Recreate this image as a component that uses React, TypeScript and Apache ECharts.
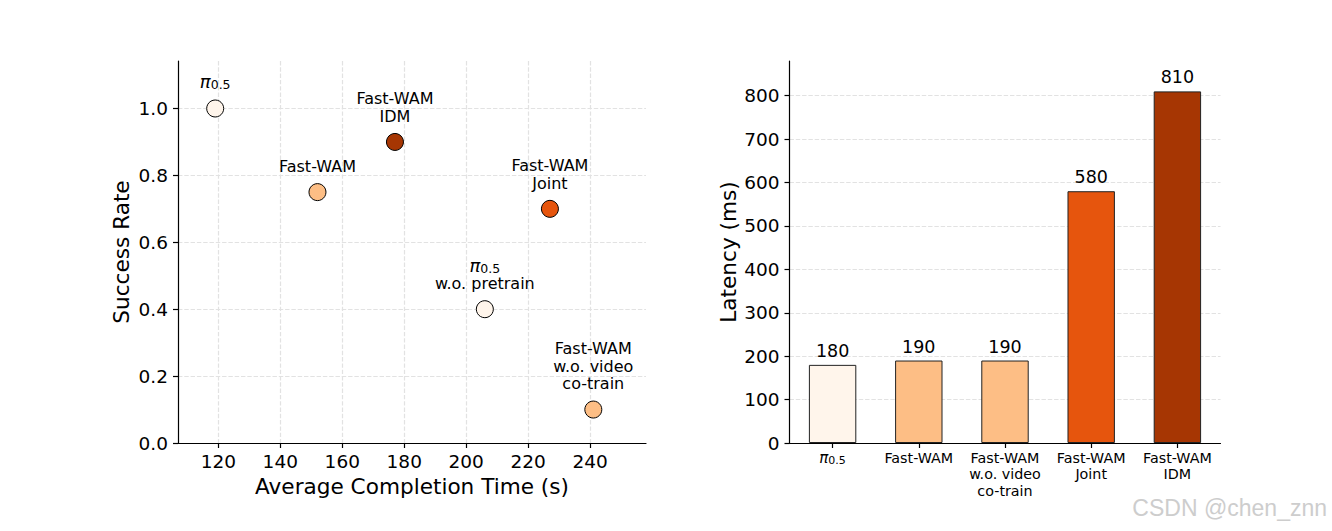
import React, { useEffect, useRef } from "react";
import * as echarts from "echarts";

// ---- Left panel: success rate vs completion time ----
const scatterNames = [
  "π0.5",
  "Fast-WAM",
  "Fast-WAM\nIDM",
  "Fast-WAM\nJoint",
  "π0.5\nw.o. pretrain",
  "Fast-WAM\nw.o. video\nco-train",
];
const completionTime = [119, 152, 177, 227, 206, 241];
const successRate = [1.0, 0.75, 0.9, 0.7, 0.4, 0.1];
const scatterColors = ["#fff5eb", "#fdbe85", "#a63603", "#e6550d", "#fff5eb", "#fdbe85"];
const timeTicks = [120, 140, 160, 180, 200, 220, 240];
const rateTicks = [0, 0.2, 0.4, 0.6, 0.8, 1.0];

// ---- Right panel: latency bars ----
const barCategories = [
  "π0.5",
  "Fast-WAM",
  "Fast-WAM\nw.o. video\nco-train",
  "Fast-WAM\nJoint",
  "Fast-WAM\nIDM",
];
const latency = [180, 190, 190, 580, 810];
const barColors = ["#fff5eb", "#fdbe85", "#fdbe85", "#e6550d", "#a63603"];
const latencyTicks = [0, 100, 200, 300, 400, 500, 600, 700, 800];

const FONT = "DejaVu Sans";
const toRich = (s: string) => s.replace("π0.5", "{pi|π}{sub|0.5}");

export default function App() {
  const ref = useRef<HTMLDivElement>(null);

  useEffect(() => {
    document.body.style.margin = "0";
    if (!ref.current) return;
    const chart = echarts.init(ref.current, undefined, { renderer: "svg" });

    const gridLine = { show: true, lineStyle: { color: "#e2e2e2", width: 1.2, type: [4.4, 1.9] as any } };
    const axisLine = { show: true, onZero: false, lineStyle: { color: "#000", width: 1.2 } };
    const tickStyle = { color: "#000", width: 1.2 };

    const option: any = {
      animation: false,
      textStyle: { fontFamily: FONT },
      grid: [
        { left: 178, top: 61, width: 468, height: 382 },
        { left: 789.5, top: 61, width: 431, height: 382 },
      ],
      xAxis: [
        {
          type: "value",
          gridIndex: 0,
          min: 107,
          max: 258,
          axisLine,
          axisTick: { show: true, length: 5, lineStyle: tickStyle, customValues: timeTicks },
          axisLabel: { customValues: timeTicks, fontSize: 18.5, color: "#000", margin: 9, fontFamily: FONT },
          splitLine: gridLine,
          name: "Average Completion Time (s)",
          nameLocation: "middle",
          nameGap: 30,
          nameTextStyle: { fontSize: 21.6, color: "#000", fontFamily: FONT },
        },
        {
          type: "category",
          gridIndex: 1,
          data: barCategories,
          axisLine,
          axisTick: { show: true, length: 5, alignWithLabel: true, lineStyle: tickStyle },
          axisLabel: {
            interval: 0,
            fontSize: 14.3,
            lineHeight: 16.3,
            color: "#000",
            margin: 7,
            fontFamily: FONT,
            formatter: (v: string) => toRich(v),
            rich: {
              pi: { fontSize: 15, fontStyle: "italic", lineHeight: 16.3, fontFamily: FONT, color: "#000" },
              sub: { fontSize: 11, lineHeight: 10, verticalAlign: "bottom", fontFamily: FONT, color: "#000" },
            },
          },
          splitLine: { show: false },
        },
      ],
      yAxis: [
        {
          type: "value",
          gridIndex: 0,
          min: 0,
          max: 1.142,
          axisLine,
          axisTick: { show: true, length: 5, lineStyle: tickStyle, customValues: rateTicks },
          axisLabel: {
            customValues: rateTicks,
            fontSize: 18.5,
            color: "#000",
            margin: 10,
            fontFamily: FONT,
            formatter: (v: number) => v.toFixed(1),
          },
          splitLine: gridLine,
          name: "Success Rate",
          nameLocation: "middle",
          nameGap: 46,
          nameTextStyle: { fontSize: 21.6, color: "#000", fontFamily: FONT },
        },
        {
          type: "value",
          gridIndex: 1,
          min: 0,
          max: 880,
          axisLine,
          axisTick: { show: true, length: 5, lineStyle: tickStyle, customValues: latencyTicks },
          axisLabel: { customValues: latencyTicks, fontSize: 18.5, color: "#000", margin: 10, fontFamily: FONT },
          splitLine: gridLine,
          name: "Latency (ms)",
          nameLocation: "middle",
          nameGap: 50,
          nameTextStyle: { fontSize: 21.6, color: "#000", fontFamily: FONT },
        },
      ],
      series: [
        {
          type: "scatter",
          xAxisIndex: 0,
          yAxisIndex: 0,
          symbolSize: 17,
          itemStyle: { borderColor: "#000", borderWidth: 1, opacity: 1 },
          label: {
            show: true,
            position: "top",
            distance: 8,
            fontSize: 16,
            lineHeight: 17.5,
            color: "#000",
            fontFamily: FONT,
            align: "center",
            rich: {
              pi: { fontSize: 18, fontStyle: "italic", lineHeight: 19, fontFamily: FONT, color: "#000" },
              sub: { fontSize: 12.5, lineHeight: 10, verticalAlign: "bottom", fontFamily: FONT, color: "#000" },
            },
          },
          data: completionTime.map((t, i) => ({
            value: [t, successRate[i]],
            itemStyle: { color: scatterColors[i] },
            label: { formatter: toRich(scatterNames[i]) },
          })),
        },
        {
          type: "bar",
          xAxisIndex: 1,
          yAxisIndex: 1,
          barWidth: "55%",
          itemStyle: { borderColor: "#222", borderWidth: 1 },
          label: { show: true, position: "top", distance: 5, fontSize: 17.5, color: "#000", fontFamily: FONT },
          data: latency.map((v, i) => ({ value: v, itemStyle: { color: barColors[i] } })),
        },
      ],
      graphic: [
        {
          type: "text",
          right: 5,
          top: 496,
          style: { text: "CSDN @chen_znn", font: '23px "Liberation Sans"', fill: "#cdcdcd" },
        },
      ],
    };

    chart.setOption(option);
    return () => chart.dispose();
  }, []);

  return <div ref={ref} style={{ width: 1332, height: 531 }} />;
}
